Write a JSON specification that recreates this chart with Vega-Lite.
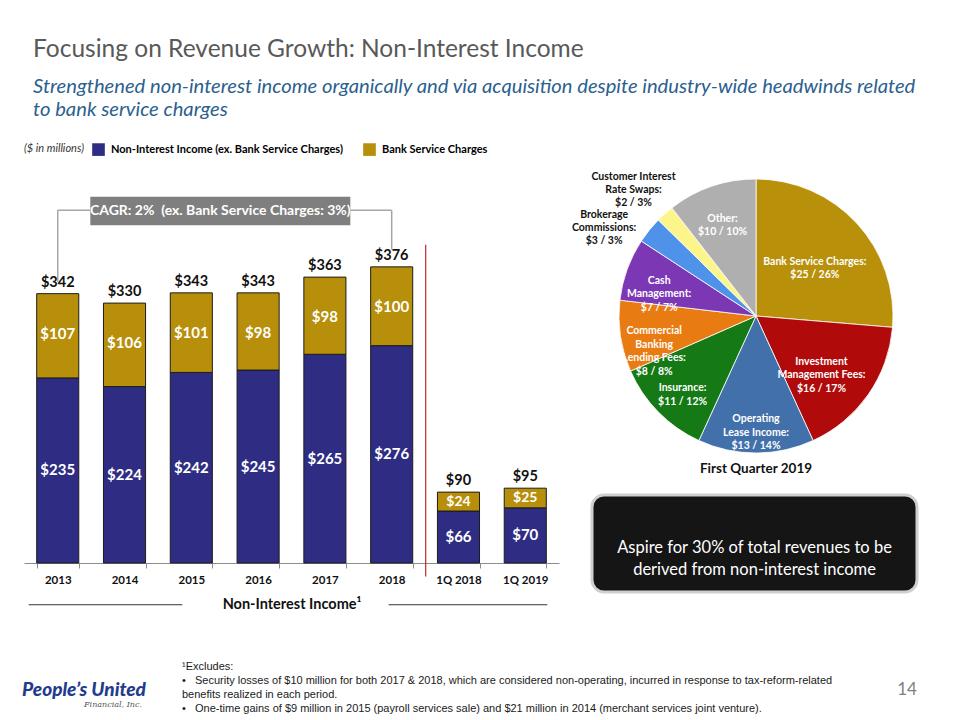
{
  "$schema": "https://vega.github.io/schema/vega-lite/v6.json",
  "background": "#ffffff",
  "padding": {"left": 22, "top": 37, "right": 10, "bottom": 4},
  "config": {"view": {"stroke": null}, "font": "Lato"},
  "title": {
    "text": "Focusing on Revenue Growth: Non-Interest Income",
    "subtitle": ["Strengthened non-interest income organically and via acquisition despite industry-wide headwinds related", "to bank service charges"],
    "anchor": "start",
    "dx": 11,
    "font": "Lato",
    "fontSize": 24.5,
    "fontWeight": "normal",
    "color": "#595959",
    "subtitleFont": "Lato",
    "subtitleFontSize": 20.2,
    "subtitleFontStyle": "italic",
    "subtitleColor": "#2B5F8F",
    "subtitlePadding": 14,
    "subtitleLineHeight": 23,
    "offset": 22
  },
  "spacing": 49,
  "resolve": {"scale": {"x": "independent", "y": "independent", "color": "independent", "theta": "independent"}},
  "vconcat": [
    {
      "hconcat": [
        {
          "width": 535,
          "height": 393,
          "data": {"values": [
            {"period": "2013", "type": "Non-Interest Income (ex. Bank Service Charges)", "value": 235},
            {"period": "2013", "type": "Bank Service Charges", "value": 107},
            {"period": "2014", "type": "Non-Interest Income (ex. Bank Service Charges)", "value": 224},
            {"period": "2014", "type": "Bank Service Charges", "value": 106},
            {"period": "2015", "type": "Non-Interest Income (ex. Bank Service Charges)", "value": 242},
            {"period": "2015", "type": "Bank Service Charges", "value": 101},
            {"period": "2016", "type": "Non-Interest Income (ex. Bank Service Charges)", "value": 245},
            {"period": "2016", "type": "Bank Service Charges", "value": 98},
            {"period": "2017", "type": "Non-Interest Income (ex. Bank Service Charges)", "value": 265},
            {"period": "2017", "type": "Bank Service Charges", "value": 98},
            {"period": "2018", "type": "Non-Interest Income (ex. Bank Service Charges)", "value": 276},
            {"period": "2018", "type": "Bank Service Charges", "value": 100},
            {"period": "1Q 2018", "type": "Non-Interest Income (ex. Bank Service Charges)", "value": 66},
            {"period": "1Q 2018", "type": "Bank Service Charges", "value": 24},
            {"period": "1Q 2019", "type": "Non-Interest Income (ex. Bank Service Charges)", "value": 70},
            {"period": "1Q 2019", "type": "Bank Service Charges", "value": 25}
          ]},
          "encoding": {
            "x": {
              "field": "period", "type": "nominal", "sort": null,
              "scale": {"domain": ["2013", "2014", "2015", "2016", "2017", "2018", "1Q 2018", "1Q 2019"], "paddingInner": 0.37, "paddingOuter": 0.19},
              "axis": {
                "title": "Non-Interest Income¹", "titleFont": "Lato", "titleFontSize": 14.5, "titleFontWeight": "bold", "titleColor": "#111111", "titlePadding": 12,
                "labelFont": "Lato", "labelFontSize": 11.5, "labelFontWeight": "bold", "labelColor": "#111111", "labelAngle": 0, "labelPadding": 6,
                "domainColor": "#8c8c8c", "tickColor": "#8c8c8c", "tickBand": "extent", "tickSize": 5, "grid": false
              }
            }
          },
          "resolve": {"scale": {"y": "independent"}},
          "layer": [
            {
              "layer": [
                {
                  "data": {"values": [{}]},
                  "mark": {"type": "rule", "color": "#A6A6A6", "strokeWidth": 1.5},
                  "encoding": {
                    "x": {"datum": "2013", "type": "nominal"},
                    "x2": {"datum": "2018"},
                    "y": {"datum": 448, "type": "quantitative", "scale": {"domain": [0, 499], "nice": false}, "axis": null}
                  }
                },
                {
                  "data": {"values": [{}]},
                  "mark": {"type": "rule", "color": "#A6A6A6", "strokeWidth": 1.5},
                  "encoding": {
                    "x": {"datum": "2013", "type": "nominal"},
                    "y": {"datum": 357, "type": "quantitative", "scale": {"domain": [0, 499], "nice": false}, "axis": null},
                    "y2": {"datum": 448}
                  }
                },
                {
                  "data": {"values": [{}]},
                  "mark": {"type": "rule", "color": "#A6A6A6", "strokeWidth": 1.5},
                  "encoding": {
                    "x": {"datum": "2018", "type": "nominal"},
                    "y": {"datum": 398, "type": "quantitative", "scale": {"domain": [0, 499], "nice": false}, "axis": null},
                    "y2": {"datum": 448}
                  }
                },
                {
                  "data": {"values": [{}]},
                  "mark": {"type": "bar", "color": "#7F7F7F", "width": 260, "xOffset": 29},
                  "encoding": {
                    "x": {"datum": "2015", "type": "nominal"},
                    "y": {"datum": 429, "type": "quantitative", "scale": {"domain": [0, 499], "nice": false}, "axis": null},
                    "y2": {"datum": 465}
                  }
                },
                {
                  "data": {"values": [{}]},
                  "mark": {"type": "text", "color": "#ffffff", "fontWeight": "bold", "fontSize": 14, "font": "Lato", "xOffset": 29, "baseline": "middle", "text": "CAGR: 2%\u00a0 (ex. Bank Service Charges: 3%)"},
                  "encoding": {
                    "x": {"datum": "2015", "type": "nominal"},
                    "y": {"datum": 447, "type": "quantitative", "scale": {"domain": [0, 499], "nice": false}, "axis": null}
                  }
                },
                {
                  "data": {"values": [{}]},
                  "mark": {"type": "rule", "color": "#C0272D", "strokeWidth": 1.2, "xOffset": 34},
                  "encoding": {
                    "x": {"datum": "2018", "type": "nominal"},
                    "y": {"datum": -17, "type": "quantitative", "scale": {"domain": [0, 499], "nice": false}, "axis": null},
                    "y2": {"datum": 404}
                  }
                },
                {
                  "data": {"values": [{}]},
                  "mark": {"type": "rule", "color": "#333333", "strokeWidth": 1, "xOffset": -29, "x2Offset": -9},
                  "encoding": {
                    "x": {"datum": "2013", "type": "nominal"},
                    "x2": {"datum": "2015"},
                    "y": {"datum": -53, "type": "quantitative", "scale": {"domain": [0, 499], "nice": false}, "axis": null}
                  }
                },
                {
                  "data": {"values": [{}]},
                  "mark": {"type": "rule", "color": "#333333", "strokeWidth": 1, "xOffset": -3, "x2Offset": 22},
                  "encoding": {
                    "x": {"datum": "2018", "type": "nominal"},
                    "x2": {"datum": "1Q 2019"},
                    "y": {"datum": -53, "type": "quantitative", "scale": {"domain": [0, 499], "nice": false}, "axis": null}
                  }
                },
                {
                  "mark": {"type": "bar", "stroke": "#1c1c1c", "strokeWidth": 1},
                  "encoding": {
                    "y": {"field": "value", "type": "quantitative", "stack": "zero", "scale": {"domain": [0, 499], "nice": false}, "axis": null},
                    "color": {
                      "field": "type", "type": "nominal",
                      "scale": {"domain": ["Non-Interest Income (ex. Bank Service Charges)", "Bank Service Charges"], "range": ["#2E2D83", "#B78F0B"]},
                      "legend": {
                        "orient": "none", "legendX": 0, "legendY": -27, "direction": "horizontal",
                        "title": "($ in millions)", "titleOrient": "left", "titleFontStyle": "italic", "titleFontWeight": "normal", "titleFontSize": 11, "titleColor": "#333333", "titleFont": "Lato", "titlePadding": 8,
                        "labelFont": "Lato", "labelFontSize": 11, "labelFontWeight": "bold", "labelLimit": 400, "labelOffset": 6,
                        "symbolType": "square", "symbolSize": 160, "symbolStrokeWidth": 0, "columnPadding": 20,
                        "encode": {"labels": {"update": {"fill": {"signal": "datum.label === 'Bank Service Charges' ? '#B8900C' : '#2E2D83'"}}}}
                      }
                    },
                    "order": {"field": "type", "sort": "descending"}
                  }
                },
                {
                  "mark": {"type": "text", "baseline": "bottom", "dy": -4, "fontSize": 14.5, "fontWeight": "bold", "color": "#111111", "font": "Lato"},
                  "encoding": {
                    "y": {"aggregate": "sum", "field": "value", "type": "quantitative", "scale": {"domain": [0, 499], "nice": false}, "axis": null},
                    "text": {"aggregate": "sum", "field": "value", "type": "quantitative", "format": "$d"}
                  }
                },
                {
                  "mark": {"type": "text", "baseline": "middle", "dy": 40, "fontSize": 15, "fontWeight": "bold", "color": "#ffffff", "font": "Lato"},
                  "encoding": {
                    "y": {"field": "value", "type": "quantitative", "stack": "zero", "scale": {"domain": [0, 499], "nice": false}, "axis": null},
                    "detail": {"field": "type"},
                    "order": {"field": "type", "sort": "descending"},
                    "text": {"condition": {"test": "datum.type === 'Bank Service Charges' && datum.value > 50", "field": "value", "type": "quantitative", "format": "$d"}, "value": ""}
                  }
                },
                {
                  "mark": {"type": "text", "baseline": "middle", "dy": 10, "fontSize": 14, "fontWeight": "bold", "color": "#ffffff", "font": "Lato"},
                  "encoding": {
                    "y": {"field": "value", "type": "quantitative", "stack": "zero", "scale": {"domain": [0, 499], "nice": false}, "axis": null},
                    "detail": {"field": "type"},
                    "order": {"field": "type", "sort": "descending"},
                    "text": {"condition": {"test": "datum.type === 'Bank Service Charges' && datum.value < 50", "field": "value", "type": "quantitative", "format": "$d"}, "value": ""}
                  }
                }
              ]
            },
            {
              "transform": [{"filter": "datum.type !== 'Bank Service Charges'"}],
              "mark": {"type": "text", "baseline": "middle", "fontSize": 15, "fontWeight": "bold", "color": "#ffffff", "font": "Lato"},
              "encoding": {
                "y": {"field": "value", "type": "quantitative", "stack": null, "scale": {"domain": [0, 998], "nice": false}, "axis": null},
                "text": {"field": "value", "type": "quantitative", "format": "$d"}
              }
            }
          ]
        },
        {
          "vconcat": [
            {
              "width": 328,
              "height": 292,
              "data": {"values": [
                {"seq": 1, "category": "Bank Service Charges", "value": 25, "label": "Bank Service Charges:\n$25 / 26%"},
                {"seq": 2, "category": "Investment Management Fees", "value": 16, "label": "Investment\nManagement Fees:\n$16 / 17%"},
                {"seq": 3, "category": "Operating Lease Income", "value": 13, "label": "Operating\nLease Income:\n$13 / 14%"},
                {"seq": 4, "category": "Insurance", "value": 11, "label": "Insurance:\n$11 / 12%"},
                {"seq": 5, "category": "Commercial Banking Lending Fees", "value": 8, "label": "Commercial\nBanking\nLending Fees:\n$8 / 8%"},
                {"seq": 6, "category": "Cash Management", "value": 7, "label": "Cash\nManagement:\n$7 / 7%"},
                {"seq": 7, "category": "Brokerage Commissions", "value": 3, "label": "Brokerage\nCommissions:\n$3 / 3%"},
                {"seq": 8, "category": "Customer Interest Rate Swaps", "value": 2, "label": "Customer Interest\nRate Swaps:\n$2 / 3%"},
                {"seq": 9, "category": "Other", "value": 10, "label": "Other:\n$10 / 10%"}
              ]},
              "title": {"text": "First Quarter 2019", "orient": "bottom", "offset": 0, "fontSize": 13.5, "fontWeight": "bold", "color": "#111111", "font": "Lato"},
              "encoding": {
                "theta": {"field": "value", "type": "quantitative", "stack": true},
                "order": {"field": "seq", "type": "quantitative"},
                "detail": {"field": "category"}
              },
              "layer": [
                {
                  "mark": {"type": "arc", "outerRadius": 137, "stroke": "#ffffff", "strokeWidth": 0.8},
                  "encoding": {
                    "color": {
                      "field": "category", "type": "nominal", "sort": null, "legend": null,
                      "scale": {
                        "domain": ["Bank Service Charges", "Investment Management Fees", "Operating Lease Income", "Insurance", "Commercial Banking Lending Fees", "Cash Management", "Brokerage Commissions", "Customer Interest Rate Swaps", "Other"],
                        "range": ["#B8900A", "#B10A0A", "#4270AA", "#157A15", "#E87B12", "#7C37B5", "#4F92EA", "#FBF58C", "#AFAFAF"]
                      }
                    }
                  }
                },
                {
                  "mark": {"type": "text", "radius": 80, "lineBreak": "\n", "color": "#ffffff", "fontSize": 10.5, "fontWeight": "bold", "lineHeight": 13.5, "font": "Lato"},
                  "encoding": {"text": {"condition": {"test": "datum.seq <= 2", "field": "label"}, "value": ""}}
                },
                {
                  "mark": {"type": "text", "radius": 103, "lineBreak": "\n", "color": "#ffffff", "fontSize": 10.5, "fontWeight": "bold", "lineHeight": 13.5, "font": "Lato"},
                  "encoding": {"text": {"condition": {"test": "(datum.seq >= 3 && datum.seq <= 6) || datum.seq === 9", "field": "label"}, "value": ""}}
                },
                {
                  "mark": {"type": "text", "radius": 100, "dx": -74, "dy": -38, "lineBreak": "\n", "color": "#111111", "fontSize": 10.5, "fontWeight": "bold", "lineHeight": 13, "font": "Lato"},
                  "encoding": {"text": {"condition": {"test": "datum.seq === 7", "field": "label"}, "value": ""}}
                },
                {
                  "mark": {"type": "text", "radius": 100, "dx": -56, "dy": -64, "lineBreak": "\n", "color": "#111111", "fontSize": 10.5, "fontWeight": "bold", "lineHeight": 13, "font": "Lato"},
                  "encoding": {"text": {"condition": {"test": "datum.seq === 8", "field": "label"}, "value": ""}}
                }
              ]
            },
            {
              "width": 325,
              "height": 97,
              "view": {"fill": "#151515", "stroke": "#cfcfcf", "strokeWidth": 3, "cornerRadius": 12},
              "data": {"values": [{"message": "Aspire for 30% of total revenues to be\nderived from non-interest income"}]},
              "mark": {"type": "text", "lineBreak": "\n", "color": "#ffffff", "fontSize": 16.5, "font": "Lato", "lineHeight": 22, "dy": 4},
              "encoding": {"text": {"field": "message"}}
            }
          ],
          "spacing": 17,
          "resolve": {"scale": {"color": "independent", "theta": "independent"}}
        }
      ],
      "spacing": 33,
      "bounds": "flush",
      "resolve": {"scale": {"x": "independent", "y": "independent", "color": "independent", "theta": "independent"}}
    },
    {
      "hconcat": [
        {
          "width": 128,
          "height": 56,
          "data": {"values": [{"name": "People’s United", "sub": "Financial, Inc."}]},
          "layer": [
            {"mark": {"type": "text", "font": "Lato", "fontSize": 19, "fontWeight": 900, "fontStyle": "italic", "color": "#1F3C8E", "dx": -4, "dy": 2}, "encoding": {"text": {"field": "name"}}},
            {"mark": {"type": "text", "font": "DejaVu Serif", "fontSize": 8, "fontStyle": "italic", "color": "#555555", "align": "right", "dx": 54, "dy": 17}, "encoding": {"text": {"field": "sub"}}}
          ]
        },
        {
          "width": 680,
          "height": 56,
          "data": {"values": [
            {"line": 1, "text": "¹Excludes:"},
            {"line": 2, "text": "\u00a0\u00a0•\u00a0\u00a0\u00a0Security losses of $10 million for both 2017 & 2018, which are considered non-operating, incurred in response to tax-reform-related"},
            {"line": 3, "text": "\u00a0\u00a0\u00a0\u00a0\u00a0\u00a0\u00a0benefits realized in each period."},
            {"line": 4, "text": "\u00a0\u00a0•\u00a0\u00a0\u00a0One-time gains of $9 million in 2015 (payroll services sale) and $21 million in 2014 (merchant services joint venture)."}
          ]},
          "mark": {"type": "text", "align": "left", "baseline": "middle", "font": "Liberation Sans", "fontSize": 11, "color": "#1a1a1a"},
          "encoding": {
            "y": {"field": "line", "type": "ordinal", "axis": null, "scale": {"type": "point", "padding": 0.5}},
            "x": {"value": 0},
            "text": {"field": "text", "type": "nominal"}
          }
        },
        {
          "width": 30,
          "height": 56,
          "data": {"values": [{"page": "14"}]},
          "mark": {"type": "text", "fontSize": 17, "color": "#808080", "font": "Lato", "dy": 2},
          "encoding": {"text": {"field": "page"}}
        }
      ],
      "spacing": 30,
      "bounds": "flush",
      "resolve": {"scale": {"y": "independent"}}
    }
  ]
}
